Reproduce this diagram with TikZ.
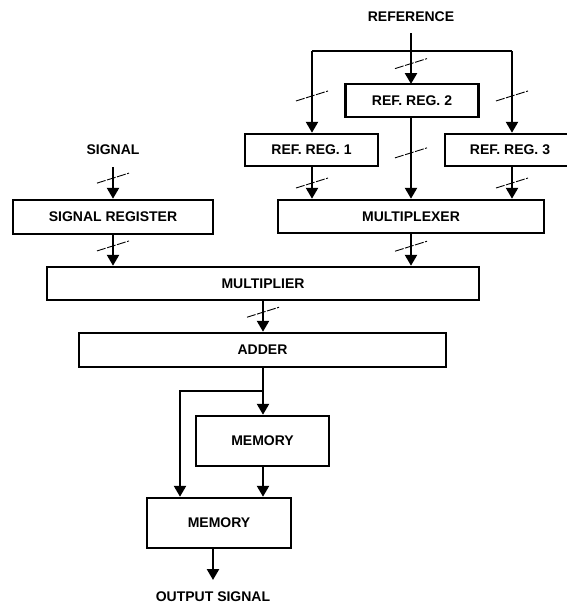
\documentclass[tikz,border=0pt]{standalone}
\usepackage{fontspec}
\setmainfont{Liberation Sans}
\usetikzlibrary{arrows.meta}
\usetikzlibrary{decorations.markings}

\begin{document}
\begin{tikzpicture}[
    x=1pt, y=-1pt,
    line width=2.5pt,
    font=\fontsize{14}{16}\selectfont\bfseries,
    block/.style={
        draw=black,
        inner sep=0pt
    },
    flow/.style={
        -{Triangle[width=12pt,length=11pt]}
    },
    bus/.style={
        postaction={decorate},
        decoration={markings,
            mark=at position #1 with {\draw[-, line width=0.9pt, dash pattern=on 9pt off 1.5pt] (5pt,-16pt) -- (-5pt,16pt);}}
    }
]

    \useasboundingbox (0,0) rectangle (567,606);

    % Texts
    \node (ref) at (411,17) {REFERENCE};
    \node (sig) at (113,150) {SIGNAL};
    \node (out) at (213,597) {OUTPUT SIGNAL};

    % Blocks
    \node[block, minimum width=133pt, minimum height=33pt] (reg2) at (412,100.5) {REF. REG. 2};
    \node[block, minimum width=133pt, minimum height=32pt] (reg1) at (311.5,150) {REF. REG. 1};
    \node[block, minimum width=130pt, minimum height=32pt] (reg3) at (510,150) {REF. REG. 3};
    \node[block, minimum width=266pt, minimum height=33pt] (mux) at (411,216.5) {MULTIPLEXER};
    \node[block, minimum width=200pt, minimum height=34pt] (sreg) at (113,217) {SIGNAL REGISTER};
    \node[block, minimum width=432pt, minimum height=33pt] (mult) at (263,283.5) {MULTIPLIER};
    \node[block, minimum width=367pt, minimum height=34pt] (adder) at (262.5,350) {ADDER};
    \node[block, minimum width=133pt, minimum height=50pt] (mem1) at (262.5,441) {MEMORY};
    \node[block, minimum width=144pt, minimum height=50pt] (mem2) at (219,523) {MEMORY};

    \coordinate (tL) at (312,51);
    \coordinate (tR) at (512,51);
    \coordinate (tM) at (411,51);
    \coordinate (bM) at (263,391);
    \coordinate (bL) at (180,391);
    \coordinate (oEnd) at (213,580);

    % Reference branch
    \draw[flow, bus=0.6] (411,33) -- (411,84);
    \draw (tL) -- (tR);
    \draw[flow, bus=0.55] (tL) -- (tL |- reg1.north);
    \draw[flow, bus=0.55] (tR) -- (tR |- reg3.north);
    \draw[flow, bus=0.43] (reg2.south -| tM) -- (mux.north -| tM);
    \draw[flow, bus=0.5] (reg1.south -| tL) -- (mux.north -| tL);
    \draw[flow, bus=0.5] (reg3.south -| tR) -- (mux.north -| tR);
    \draw[flow, bus=0.38] (mux.south -| tM) -- (mult.north -| tM);

    % Signal branch
    \draw[flow, bus=0.35] (113,167) -- (sreg.north);
    \draw[flow, bus=0.35] (sreg.south) -- (mult.north -| sreg.south);

    % Lower chain
    \draw[flow, bus=0.36] (mult.south -| bM) -- (adder.north -| bM);
    \draw[flow] (adder.south -| bM) -- (mem1.north -| bM);
    \draw[flow] (bM) -- (bL) -- (bL |- mem2.north);
    \draw[flow] (mem1.south -| bM) -- (mem2.north -| bM);
    \draw[flow] (mem2.south -| oEnd) -- (oEnd);

\end{tikzpicture}
\end{document}
